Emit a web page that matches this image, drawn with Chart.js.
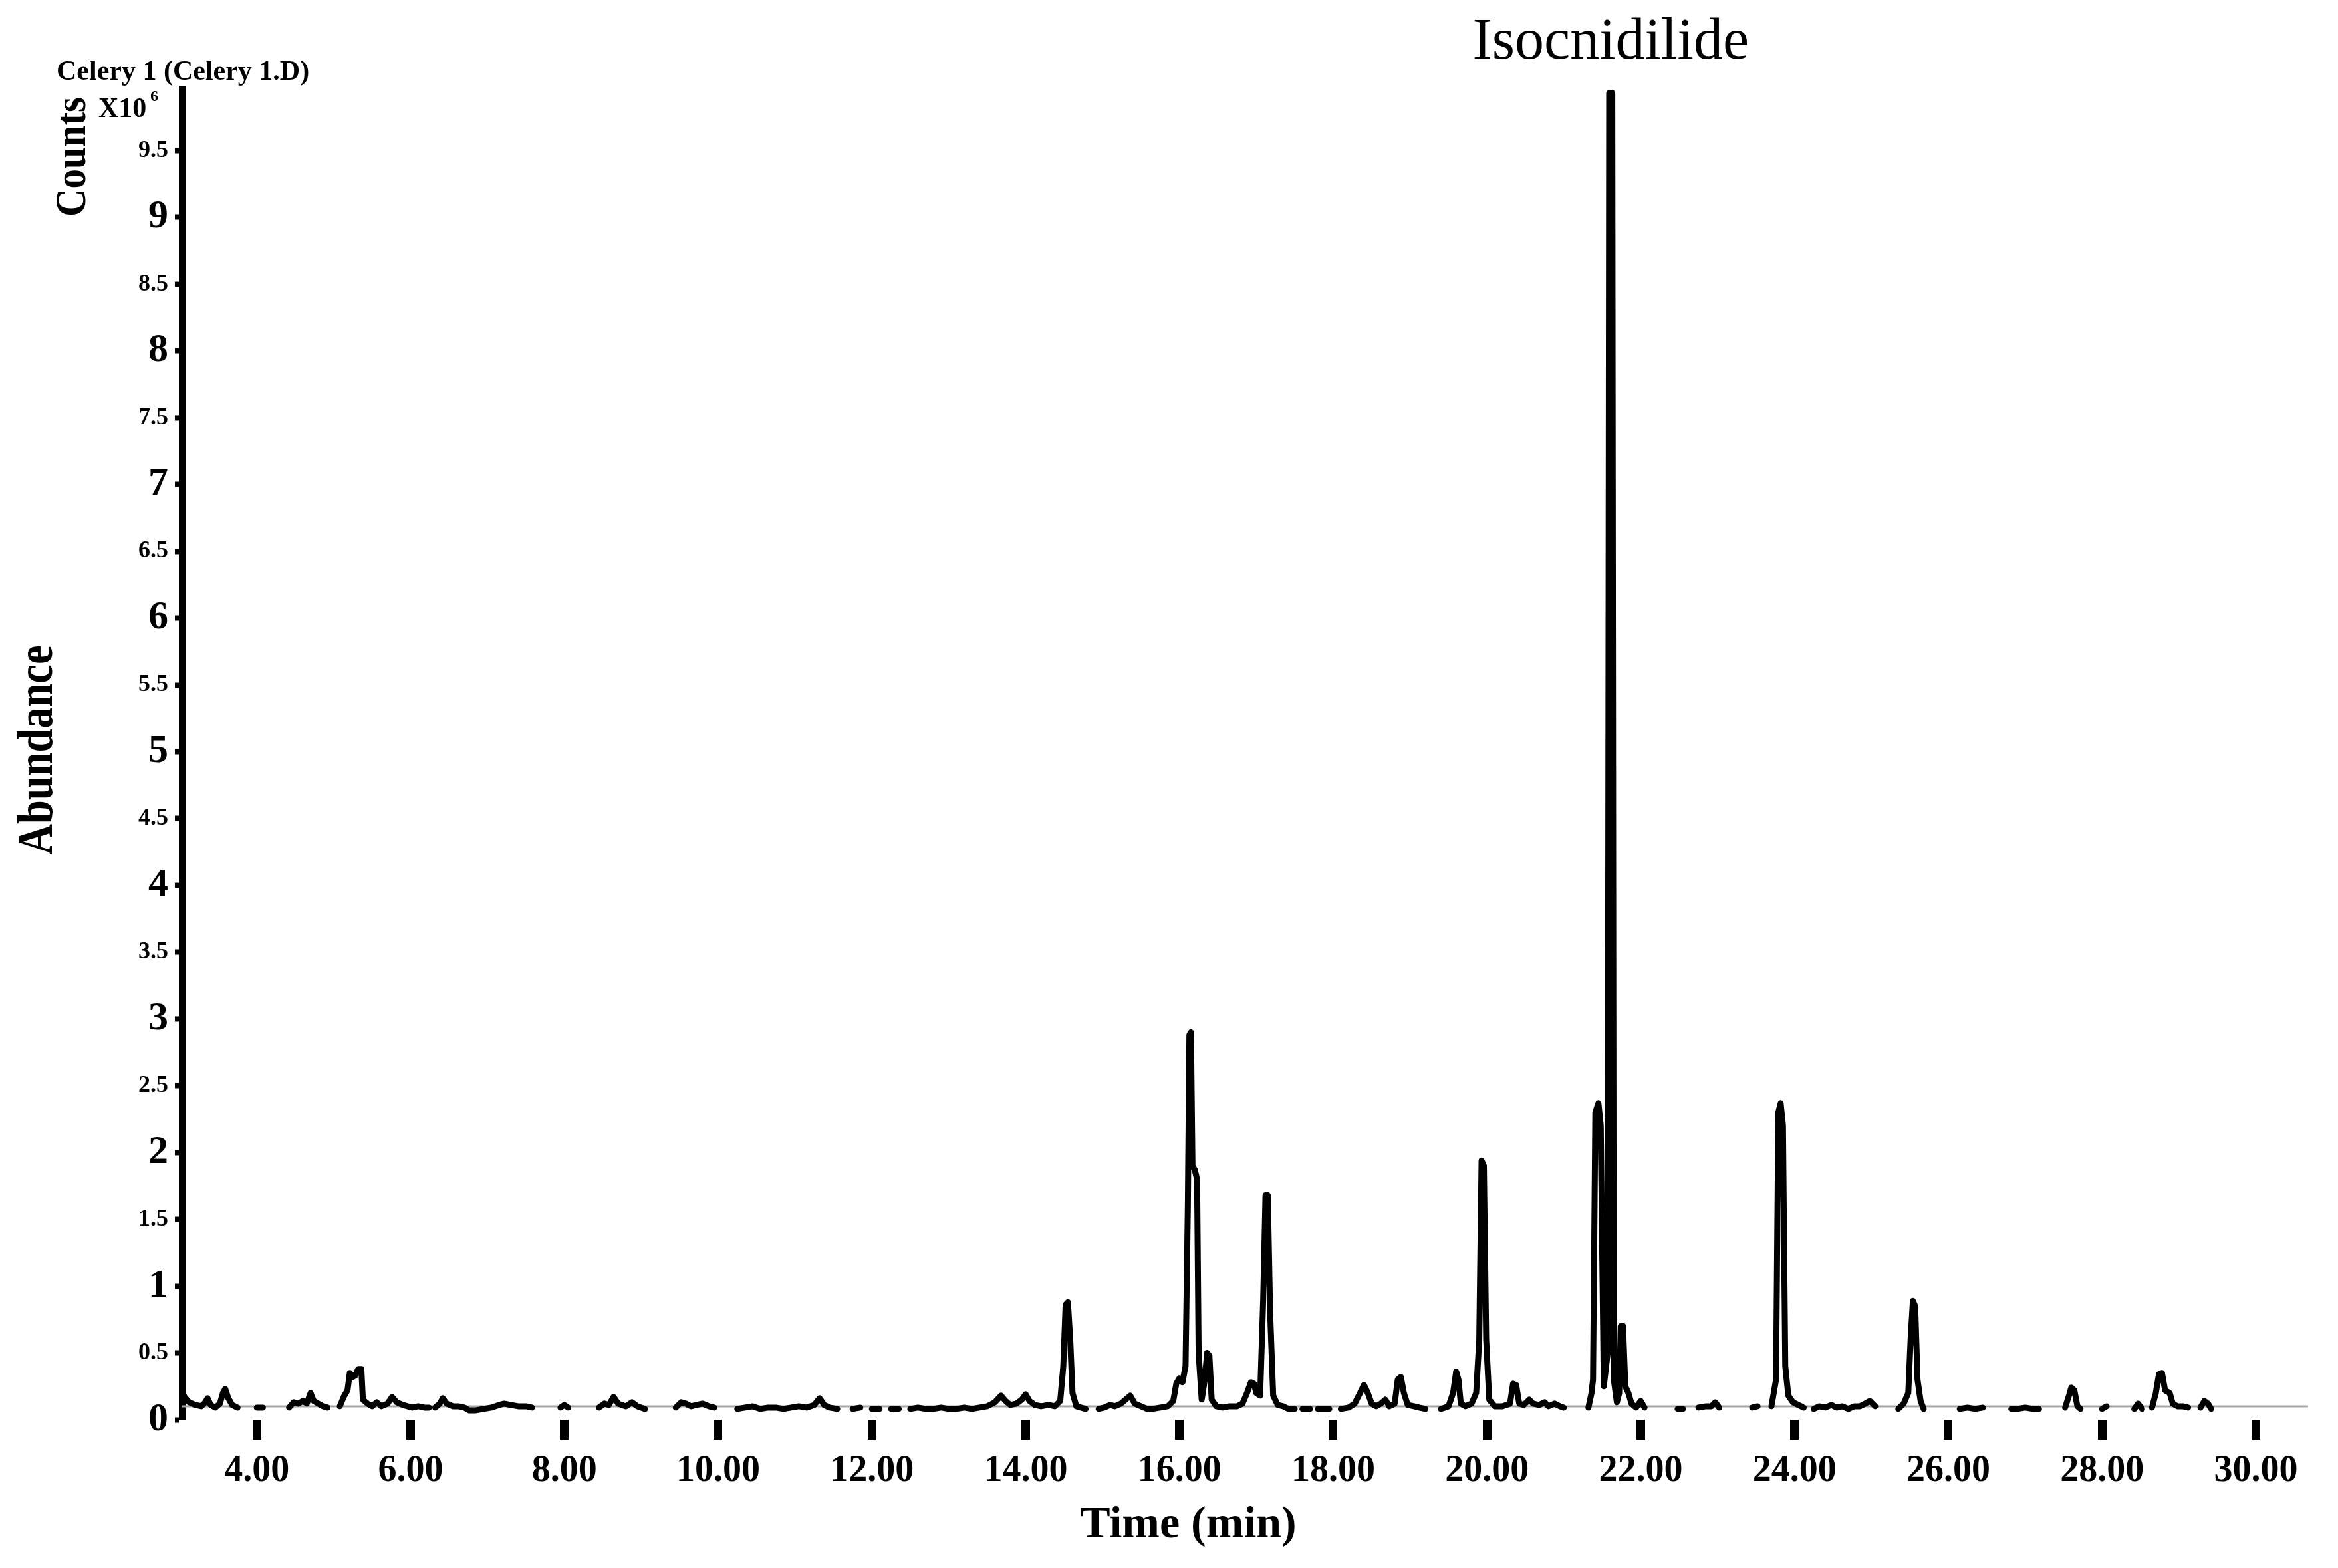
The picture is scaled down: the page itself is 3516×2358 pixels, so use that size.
<!DOCTYPE html>
<html>
<head>
<meta charset="utf-8">
<title>Celery 1 chromatogram</title>
<script src="https://cdn.jsdelivr.net/npm/chart.js@4.4.1/dist/chart.umd.min.js"></script>
<style>
  html, body { margin: 0; padding: 0; background: #fff; }
  #wrap { width: 3516px; height: 2358px; position: relative; }
</style>
</head>
<body>
<div id="wrap"><canvas id="chart"></canvas></div>
<script>
// retention time (min) and abundance (x10^6 counts); null = gap in the trace
const retentionTimes = [
  3.03, 3.06, 3.12, 3.2, 3.28, 3.33, 3.36, 3.4, 3.46, 3.52, 3.56, 3.59, 3.63, 3.68, 3.75, 3.8,
  4.0, 4.08, 4.1,
  4.42, 4.48, 4.54, 4.6, 4.65, 4.7, 4.74, 4.8, 4.86, 4.92, 4.95,
  5.08, 5.13, 5.18, 5.21, 5.25, 5.28, 5.32, 5.36, 5.38, 5.44, 5.5, 5.56, 5.62, 5.7, 5.76, 5.82, 5.9, 5.96, 6.02, 6.1, 6.18, 6.24, 6.26,
  6.32, 6.38, 6.42, 6.47, 6.55, 6.62, 6.7, 6.76, 6.85, 6.95, 7.05, 7.15, 7.22, 7.3, 7.4, 7.5, 7.58, 7.62,
  7.95, 8.0, 8.05, 8.08,
  8.45, 8.52, 8.58, 8.64, 8.7, 8.8, 8.88, 8.95, 9.05, 9.08,
  9.45, 9.52, 9.58, 9.65, 9.72, 9.8, 9.88, 9.95, 9.98,
  10.25, 10.35, 10.45, 10.55, 10.65, 10.75, 10.85, 10.95, 11.05, 11.15, 11.25, 11.32, 11.38, 11.45, 11.55, 11.6,
  11.75, 11.85, 11.9, 12.0, 12.1, 12.12, 12.25, 12.35, 12.38,
  12.5, 12.6, 12.7, 12.8, 12.9, 13.0, 13.1, 13.2, 13.3, 13.4,
  13.5, 13.6, 13.68, 13.74, 13.8, 13.88, 13.95, 14.0, 14.05, 14.12, 14.2, 14.3, 14.38, 14.45,
  14.49, 14.52, 14.55, 14.58, 14.61, 14.66, 14.72, 14.78, 14.8,
  14.95, 15.02, 15.1, 15.16, 15.24, 15.3, 15.36, 15.42, 15.5, 15.58, 15.65, 15.75, 15.85, 15.92,
  15.96, 16.0, 16.04, 16.08, 16.11, 16.13, 16.15, 16.17, 16.2, 16.23, 16.25, 16.29, 16.33, 16.36, 16.39, 16.42,
  16.48, 16.56, 16.65, 16.75, 16.82, 16.88, 16.93, 16.97, 17.0, 17.05, 17.09, 17.12, 17.15, 17.18, 17.22,
  17.28, 17.35, 17.42, 17.5, 17.55,
  17.6, 17.7, 17.72, 17.8, 17.95, 17.98,
  18.1, 18.2, 18.28, 18.35, 18.4, 18.45, 18.5, 18.56, 18.62, 18.68, 18.73, 18.8, 18.84, 18.88, 18.92, 18.97,
  19.05, 19.12, 19.2, 19.28,
  19.4, 19.5, 19.56, 19.6, 19.63, 19.66, 19.72, 19.8, 19.86, 19.9, 19.93, 19.96, 19.99, 20.03,
  20.1, 20.2, 20.3, 20.34, 20.38, 20.42, 20.48, 20.55, 20.6, 20.68, 20.75, 20.8, 20.88, 20.95, 21.0, 21.02,
  21.32, 21.36, 21.38, 21.41, 21.45, 21.48, 21.52, 21.57, 21.59, 21.63, 21.65, 21.69, 21.72, 21.74, 21.77,
  21.8, 21.84, 21.88, 21.94, 22.0, 22.05, 22.08,
  22.48, 22.55, 22.57, 22.75, 22.85, 22.92, 22.97, 23.02, 23.05,
  23.45, 23.52, 23.55, 23.7, 23.76, 23.79, 23.82, 23.85, 23.88, 23.92, 23.98, 24.05, 24.12, 24.15,
  24.25, 24.32, 24.4, 24.48, 24.55, 24.62, 24.7, 24.78, 24.85, 24.92, 24.98, 25.05, 25.1,
  25.35, 25.42, 25.48, 25.51, 25.54, 25.57, 25.6, 25.64, 25.68, 25.7,
  26.15, 26.25, 26.35, 26.45, 26.48,
  26.82, 26.9, 27.0, 27.1, 27.18, 27.2,
  27.52, 27.57, 27.6, 27.64, 27.68, 27.72, 27.74,
  28.0, 28.06, 28.1,
  28.42, 28.47, 28.52, 28.56,
  28.65, 28.7, 28.74, 28.78, 28.82, 28.88, 28.92, 28.98, 29.05, 29.12, 29.18,
  29.28, 29.33, 29.38, 29.42
];
const abundance = [
  0.21, 0.17, 0.13, 0.11, 0.1, 0.13, 0.16, 0.11, 0.09, 0.12, 0.2, 0.23, 0.16, 0.11, 0.09, null,
  0.09, 0.09, null,
  0.09, 0.13, 0.12, 0.14, 0.12, 0.2, 0.14, 0.12, 0.1, 0.09, null,
  0.1, 0.17, 0.22, 0.35, 0.32, 0.33, 0.38, 0.38, 0.15, 0.12, 0.1, 0.13, 0.1, 0.12, 0.17, 0.13, 0.11, 0.1, 0.09, 0.1, 0.09, 0.09, null,
  0.09, 0.12, 0.16, 0.12, 0.1, 0.1, 0.09, 0.07, 0.07, 0.08, 0.09, 0.11, 0.12, 0.11, 0.1, 0.1, 0.09, null,
  0.09, 0.11, 0.09, null,
  0.09, 0.12, 0.11, 0.17, 0.12, 0.1, 0.13, 0.1, 0.08, null,
  0.09, 0.13, 0.12, 0.1, 0.11, 0.12, 0.1, 0.09, null,
  0.08, 0.09, 0.1, 0.08, 0.09, 0.09, 0.08, 0.09, 0.1, 0.09, 0.11, 0.16, 0.11, 0.09, 0.08, null,
  0.08, 0.09, null, 0.08, 0.08, null, 0.08, 0.08, null,
  0.08, 0.09, 0.08, 0.08, 0.09, 0.08, 0.08, 0.09, 0.08, 0.09,
  0.1, 0.13, 0.18, 0.14, 0.11, 0.12, 0.15, 0.19, 0.14, 0.11, 0.1, 0.11, 0.1, 0.14,
  0.4, 0.86, 0.88, 0.6, 0.2, 0.1, 0.09, 0.08, null,
  0.08, 0.09, 0.11, 0.1, 0.12, 0.15, 0.18, 0.12, 0.1, 0.08, 0.08, 0.09, 0.1, 0.14,
  0.27, 0.31, 0.28, 0.4, 1.6, 2.88, 2.9, 1.9, 1.87, 1.8, 0.5, 0.15, 0.3, 0.5, 0.48, 0.15,
  0.1, 0.09, 0.1, 0.1, 0.12, 0.2, 0.28, 0.27, 0.2, 0.18, 0.9, 1.68, 1.68, 0.8, 0.18,
  0.11, 0.1, 0.08, 0.08, null,
  0.08, 0.08, null, 0.08, 0.08, null,
  0.08, 0.09, 0.12, 0.2, 0.26, 0.2, 0.12, 0.1, 0.12, 0.15, 0.1, 0.12, 0.3, 0.32, 0.2, 0.11,
  0.1, 0.09, 0.08, null,
  0.08, 0.1, 0.2, 0.36, 0.3, 0.12, 0.1, 0.12, 0.2, 0.6, 1.94, 1.9, 0.6, 0.15,
  0.1, 0.1, 0.12, 0.27, 0.26, 0.12, 0.11, 0.15, 0.12, 0.11, 0.13, 0.1, 0.12, 0.1, 0.09, null,
  0.09, 0.2, 0.3, 2.3, 2.37, 2.2, 0.25, 0.5, 9.93, 9.93, 0.3, 0.13, 0.2, 0.7, 0.7,
  0.25, 0.2, 0.12, 0.09, 0.14, 0.09, null,
  0.08, 0.08, null, 0.09, 0.1, 0.1, 0.13, 0.09, null,
  0.09, 0.1, null, 0.1, 0.3, 2.3, 2.37, 2.2, 0.4, 0.18, 0.13, 0.11, 0.09, null,
  0.08, 0.1, 0.09, 0.11, 0.09, 0.1, 0.08, 0.1, 0.1, 0.12, 0.14, 0.1, null,
  0.08, 0.12, 0.2, 0.6, 0.89, 0.85, 0.3, 0.14, 0.08, null,
  0.08, 0.09, 0.08, 0.09, null,
  0.08, 0.08, 0.09, 0.08, 0.08, null,
  0.09, 0.18, 0.24, 0.22, 0.1, 0.08, null,
  0.08, 0.1, null,
  0.08, 0.12, 0.08, null,
  0.09, 0.2, 0.34, 0.35, 0.22, 0.2, 0.12, 0.1, 0.1, 0.09, null,
  0.09, 0.14, 0.12, 0.08
];

// grey baseline drawn under the trace
const baselineTimes = [3.03, 30.68];
const baselineLevel = [0.1, 0.1];

const xTickValues = [4, 6, 8, 10, 12, 14, 16, 18, 20, 22, 24, 26, 28, 30];
const yTickValues = [0, 0.5, 1, 1.5, 2, 2.5, 3, 3.5, 4, 4.5, 5, 5.5, 6, 6.5, 7, 7.5, 8, 8.5, 9, 9.5];

const peakName = 'Isocnidilide';
const peakTime = 21.61;

const serif = '"Liberation Serif", "Times New Roman", serif';

const textPlugin = {
  id: 'extraText',
  afterDraw(chart) {
    const c = chart.ctx;
    const xs = chart.scales.x;
    c.save();
    c.fillStyle = '#000';
    c.textBaseline = 'alphabetic';

    c.textAlign = 'left';
    c.font = 'bold 42px ' + serif;
    c.fillText('Celery 1 (Celery 1.D)', 85, 120, 383);

    c.font = 'bold 42px ' + serif;
    c.fillText('X10', 148, 176, 78);
    c.font = 'bold 24px ' + serif;
    c.fillText('6', 226, 152);

    c.textAlign = 'center';
    c.font = '88px ' + serif;
    c.fillText(peakName, xs.getPixelForValue(peakTime), 88, 424);

    c.font = 'bold 68px ' + serif;
    c.fillText('Time (min)', 1787, 2312, 348);

    c.save();
    c.translate(128, 236);
    c.rotate(-Math.PI / 2);
    c.font = 'bold 66px ' + serif;
    c.fillText('Counts', 0, 0, 180);
    c.restore();

    c.save();
    c.translate(78, 1128);
    c.rotate(-Math.PI / 2);
    c.font = 'bold 76px ' + serif;
    c.fillText('Abundance', 0, 0, 315);
    c.restore();

    c.restore();
  }
};

const ctx = document.getElementById('chart').getContext('2d');
const chart = new Chart(ctx, {
  type: 'line',
  data: {
    datasets: [{
      label: 'TIC',
      data: retentionTimes.map((t, i) => ({ x: t, y: abundance[i] })),
      borderColor: '#000',
      borderWidth: 9,
      borderJoinStyle: 'round',
      borderCapStyle: 'round',
      pointRadius: 0,
      tension: 0,
      spanGaps: false
    }, {
      label: 'baseline',
      data: baselineTimes.map((t, i) => ({ x: t, y: baselineLevel[i] })),
      borderColor: '#a6a6a6',
      borderWidth: 3,
      pointRadius: 0
    }]
  },
  options: {
    responsive: true,
    maintainAspectRatio: false,
    animation: false,
    devicePixelRatio: 1,
    layout: { padding: { top: 134, right: 45, left: 0, bottom: 0 } },
    plugins: {
      legend: { display: false },
      tooltip: { enabled: false }
    },
    scales: {
      x: {
        type: 'linear',
        min: 3.03,
        max: 30.68,
        afterBuildTicks: scale => { scale.ticks = xTickValues.map(v => ({ value: v })); },
        afterFit: scale => { scale.height = 223; },
        border: { display: false },
        grid: {
          drawOnChartArea: false,
          drawTicks: true,
          tickLength: 30,
          tickWidth: 13,
          tickColor: '#000'
        },
        ticks: {
          autoSkip: false,
          maxRotation: 0,
          padding: 14,
          color: '#000',
          font: { family: serif, size: 56, weight: 'bold' },
          callback: v => Number(v).toFixed(2)
        }
      },
      y: {
        type: 'linear',
        min: 0,
        max: 9.96,
        afterBuildTicks: scale => { scale.ticks = yTickValues.map(v => ({ value: v })); },
        afterFit: scale => { scale.width = 274; },
        border: { display: true, color: '#000', width: 11 },
        grid: {
          drawOnChartArea: false,
          drawTicks: true,
          tickLength: 11,
          tickWidth: 8,
          tickColor: '#000'
        },
        ticks: {
          autoSkip: false,
          padding: 10,
          color: '#000',
          font: c => (c.tick && Number.isInteger(c.tick.value))
            ? { family: serif, size: 60, weight: 'bold' }
            : { family: serif, size: 36, weight: 'bold' },
          callback: v => String(v)
        }
      }
    }
  },
  plugins: [textPlugin]
});
</script>
</body>
</html>
